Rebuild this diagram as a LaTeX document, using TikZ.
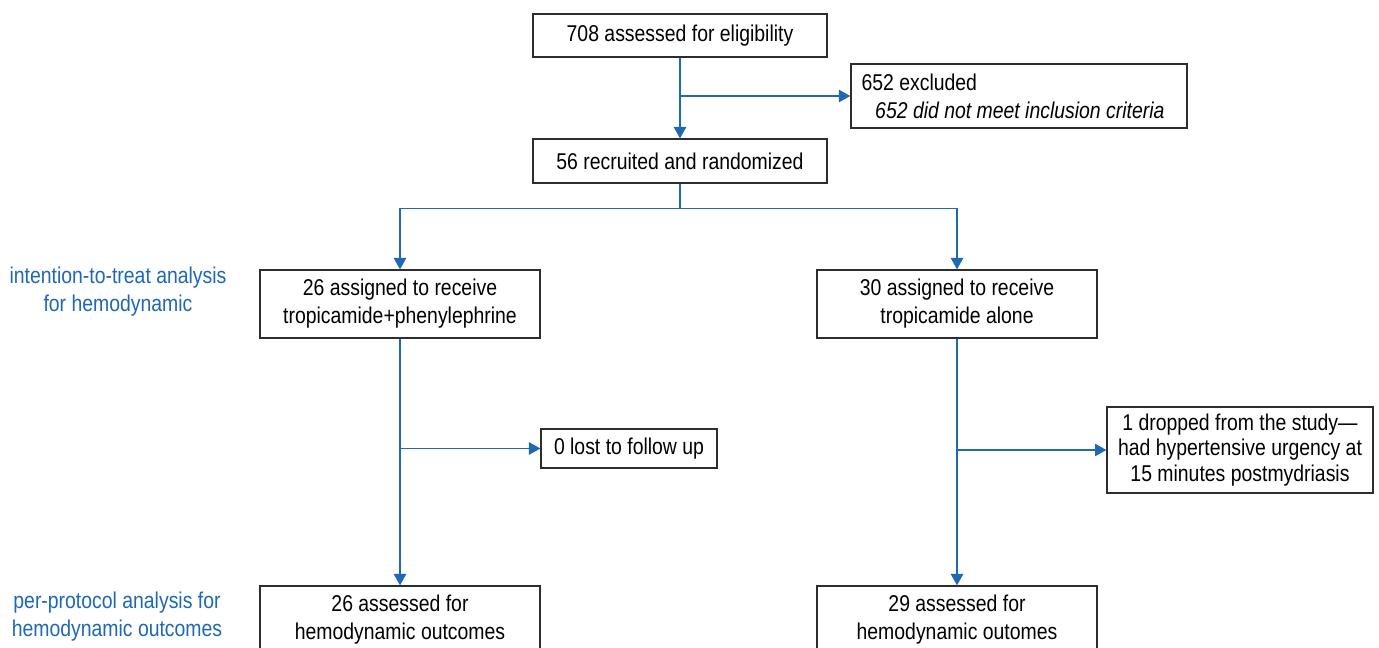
\documentclass[tikz,border=0pt]{standalone}
\usepackage{fontspec}
\setmainfont{Liberation Sans}[FakeStretch=0.85]
\usetikzlibrary{arrows.meta}
\usepackage{xcolor}
\definecolor{flowblue}{RGB}{30,104,180}
\definecolor{boxgray}{RGB}{45,45,45}

\begin{document}
\begin{tikzpicture}[x=0.02cm, y=-0.02cm, >={Triangle[width=7pt,length=6.5pt]},
  box/.style={draw=boxgray, line width=0.7pt, align=center, inner sep=2pt,
    font=\fontsize{13}{15.9}\selectfont},
  flow/.style={draw=flowblue, line width=0.85pt},
  side/.style={text=flowblue, align=center, font=\fontsize{13}{15.9}\selectfont}]
  \useasboundingbox (0,0) rectangle (1379,648);
  \clip (0,0) rectangle (1379,648);

  \node[box, minimum width=5.88cm, minimum height=0.86cm] (assess) at (680,35.5) {708 assessed for eligibility};
  \node[box, minimum height=1.28cm, align=flush left, inner xsep=6pt, text width=6.30cm] (excl) at (1019,96)
    {652 excluded\\\hspace*{0.6em}\textit{652 did not meet inclusion criteria}};
  \node[box, minimum width=5.88cm, minimum height=0.88cm] (rand) at (680,161) {56 recruited and randomized};

  \node[box, minimum width=5.6cm, minimum height=1.36cm] (armA) at (400,304) {26 assigned to receive\\tropicamide+phenylephrine};
  \node[box, minimum width=5.6cm, minimum height=1.36cm] (armB) at (957,304) {30 assigned to receive\\tropicamide alone};

  \node[box, minimum width=3.52cm, minimum height=0.78cm] (lostA) at (629,448.5) {0 lost to follow up};
  \node[box, minimum width=5.32cm, minimum height=1.72cm, font=\fontsize{13}{14.4}\selectfont] (dropB) at (1240,450)
    {1 dropped from the study—\\had hypertensive urgency at\\15 minutes postmydriasis};

  \node[box, minimum width=5.6cm, minimum height=1.36cm] (evalA) at (400,620) {26 assessed for\\hemodynamic outcomes};
  \node[box, minimum width=5.6cm, minimum height=1.36cm] (evalB) at (957,620) {29 assessed for\\hemodynamic outomes};

  \node[side] (itt) at (118,292) {intention-to-treat analysis\\for hemodynamic};
  \node[side] (pp) at (117,617) {per-protocol analysis for\\hemodynamic outcomes};

  % connectors
  \draw[flow, ->] (assess) -- (rand);
  \draw[flow, ->] (assess.south |- excl.west) -- (excl.west);
  \draw[flow] (rand.south) -- ++(0,25) coordinate (split);
  \draw[flow, ->] (split) -| (armA.north);
  \draw[flow, ->] (split) -| (armB.north);
  \draw[flow, ->] (armA) -- (evalA);
  \draw[flow, ->] (armB) -- (evalB);
  \draw[flow, ->] (armA.south |- lostA.west) -- (lostA.west);
  \draw[flow, ->] (armB.south |- dropB.west) -- (dropB.west);
\end{tikzpicture}
\end{document}
